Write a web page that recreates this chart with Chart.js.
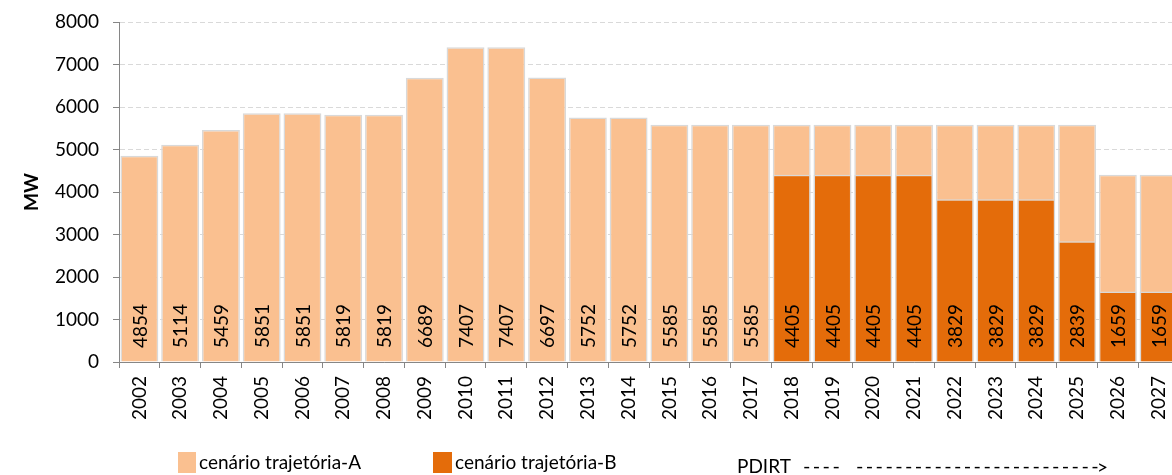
<!DOCTYPE html>
<html><head><meta charset="utf-8">
<script src="https://cdn.jsdelivr.net/npm/chart.js@4"></script>
<style>html,body{margin:0;padding:0;overflow:hidden;background:#fff}
#wrap{width:1172px;height:475px;overflow:hidden;position:relative}
canvas{display:block}
</style></head><body><div id="wrap"><canvas id="c" width="1186" height="475" style="width:1186px;height:475px"></canvas></div>
<script>
const years = ['2002','2003','2004','2005','2006','2007','2008','2009','2010','2011','2012','2013','2014','2015','2016','2017','2018','2019','2020','2021','2022','2023','2024','2025','2026','2027'];
const scenarioA = [4854,5114,5459,5851,5851,5819,5819,6689,7407,7407,6697,5752,5752,5585,5585,5585,5585,5585,5585,5585,5585,5585,5585,5585,4405,4405];
const scenarioB = [null,null,null,null,null,null,null,null,null,null,null,null,null,null,null,null,4405,4405,4405,4405,3829,3829,3829,2839,1659,1659];
const seriesNames = ['cenário trajetória-A','cenário trajetória-B'];
const axisTitle = 'MW';
const noteLabel = 'PDIRT';
const yMin = 0, yMax = 8000, yStep = 1000;

const FONT = 'Lato';
const FS = 19;
const colA = '#FAC090', colB = '#E46C0A', edge = '#D9D9D9', axisCol = '#868686';

const labelPlugin = {
  id: 'valueLabels',
  afterDatasetsDraw(chart) {
    const ctx = chart.ctx;
    const metaA = chart.getDatasetMeta(1);
    const ys = chart.scales.y;
    const base = ys.getPixelForValue(0);
    ctx.save();
    ctx.font = FS + 'px ' + FONT;
    ctx.fillStyle = '#000';
    ctx.textAlign = 'left';
    ctx.textBaseline = 'middle';
    metaA.data.forEach((bar, i) => {
      const v = scenarioB[i] != null ? scenarioB[i] : scenarioA[i];
      ctx.save();
      ctx.translate(bar.x, base - 14);
      ctx.rotate(-Math.PI / 2);
      ctx.fillText(String(v), 0, 1);
      ctx.restore();
    });
    ctx.restore();
  }
};

const legendPlugin = {
  id: 'customLegend',
  afterDraw(chart) {
    const ctx = chart.ctx;
    ctx.save();
    ctx.font = FS + 'px ' + FONT;
    ctx.fillStyle = '#000';
    ctx.textBaseline = 'middle';
    ctx.textAlign = 'left';
    ctx.fillStyle = colA; ctx.fillRect(178, 452, 18, 21);
    ctx.fillStyle = '#000'; ctx.fillText(seriesNames[0], 199, 463);
    ctx.fillStyle = colB; ctx.fillRect(433, 452, 19, 21);
    ctx.fillStyle = '#000'; ctx.fillText(seriesNames[1], 455, 463);
    ctx.fillText(noteLabel, 737, 467);
    ctx.font = '20px ' + FONT;
    const dashes = [];
    for (let k = 0; k < 4; k++) dashes.push(803 + k * 9.8);
    for (let k = 0; k < 25; k++) dashes.push(856 + k * 9.8);
    dashes.forEach(x => ctx.fillText('-', x, 467));
    ctx.font = FS + 'px ' + FONT;
    ctx.fillText('>', 1097, 468);
    ctx.restore();
  }
};

new Chart(document.getElementById('c'), {
  type: 'bar',
  data: {
    labels: years,
    datasets: [
      { label: seriesNames[1], data: scenarioB, backgroundColor: colB, borderColor: edge, borderWidth: 1.5, order: 0 },
      { label: seriesNames[0], data: scenarioA, backgroundColor: colA, borderColor: edge, borderWidth: 1.5, order: 1 }
    ]
  },
  options: {
    responsive: false,
    animation: false,
    devicePixelRatio: 1,
    datasets: { bar: { grouped: false, barPercentage: 0.93, categoryPercentage: 1 } },
    layout: { padding: { top: 22, right: 7, bottom: 0, left: 0 } },
    plugins: { legend: { display: false }, tooltip: { enabled: false } },
    scales: {
      x: {
        offset: true,
        grid: { offset: true, drawOnChartArea: false, drawTicks: true, tickLength: 6, tickColor: axisCol, tickWidth: 1 },
        border: { color: axisCol, width: 1 },
        ticks: { minRotation: 90, maxRotation: 90, autoSkip: false, padding: 8, color: '#000', font: { family: FONT, size: FS } },
        afterFit(s) { s.height = 113; s.paddingLeft = 0; s.paddingRight = 0; }
      },
      y: {
        min: yMin, max: yMax,
        ticks: { stepSize: yStep, padding: 14, color: '#000', font: { family: FONT, size: FS }, callback: v => String(v) },
        grid: { color: edge, lineWidth: 1, tickLength: 6, tickColor: axisCol, tickWidth: 1 },
        border: { color: axisCol, width: 1, dash: [5, 3] },
        title: { display: true, text: axisTitle, color: '#000', font: { family: FONT, size: FS, weight: 'bold' }, padding: { top: 20, bottom: 0 } },
        afterFit(s) { s.width = 119; s.paddingTop = 0; s.paddingBottom = 0; }
      }
    }
  },
  plugins: [labelPlugin, legendPlugin]
});
</script></body></html>
